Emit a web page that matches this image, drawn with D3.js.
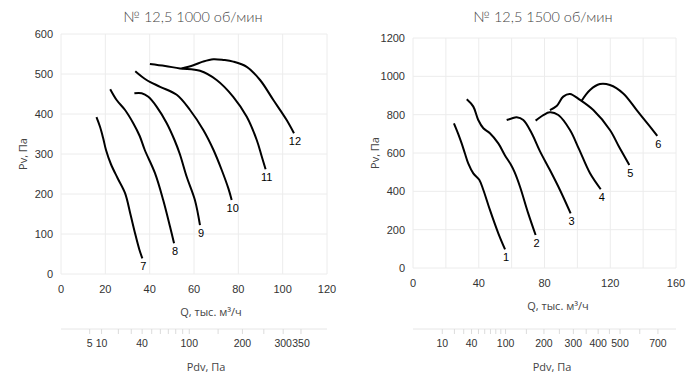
<!DOCTYPE html>
<html>
<head>
<meta charset="utf-8">
<script src="https://cdn.jsdelivr.net/npm/d3@7"></script>
<style>
  body { margin: 0; background: #fff; }
  text { font-family: "Liberation Sans", Arial, sans-serif; }
</style>
</head>
<body>
<div id="chart"></div>
<script>
// --- data ---
var leftTitle = "№ 12,5 1000 об/мин";
var rightTitle = "№ 12,5 1500 об/мин";

var leftQTicks = [0, 20, 40, 60, 80, 100, 120];
var leftPTicks = [0, 100, 200, 300, 400, 500, 600];
var leftPdvLabels = [5, 10, 40, 100, 200, 300, 350];
var leftPdvTicks = [5, 10, 20, 30, 40, 50, 60, 70, 80, 90, 100, 150, 200, 250, 300, 350];

var rightQTicks = [0, 40, 80, 120, 160];
var rightQGrid = [0, 20, 40, 60, 80, 100, 120, 140, 160];
var rightPTicks = [0, 200, 400, 600, 800, 1000, 1200];
var rightPdvLabels = [10, 40, 100, 200, 300, 400, 500, 700];
var rightPdvTicks = [10, 20, 30, 40, 50, 60, 70, 80, 90, 100, 150, 200, 250, 300, 350, 400, 450, 500, 600, 700];

// [Q, Pv] points
var curve7 = [[16, 392], [17.6, 368], [19, 340], [20.3, 310], [22.5, 275], [25.5, 240], [28.9, 202], [31.3, 150], [33.4, 102], [35.3, 62], [36.7, 39]];
var curve8 = [[22.2, 462], [25.1, 435], [28.9, 410], [32.6, 377], [35.5, 345], [37.8, 310], [42.4, 252], [46.1, 185], [49.2, 118], [51, 77]];
var curve9 = [[33.1, 452], [36.4, 452], [39.4, 443], [43.2, 418], [47.7, 377], [51.2, 335], [53.6, 300], [56.7, 243], [60.4, 185], [62.7, 122]];
var curve10 = [[33.5, 507], [38.6, 485], [44.7, 468], [52.2, 448], [58.2, 410], [64.2, 360], [68.8, 310], [72.5, 260], [75.5, 214], [77, 185]];
var curve11 = [[40.1, 525], [47, 520], [53.7, 514], [62.7, 508], [70.2, 485], [77.7, 443], [83.8, 393], [88.3, 335], [90.5, 295], [92.3, 262]];
var curve12 = [[54.4, 514], [59.7, 522], [64, 531], [68.7, 537], [73.5, 535], [77.7, 531], [83.8, 518], [89.8, 485], [95.8, 435], [101.8, 385], [105.1, 352]];

var curve1 = [[24.9, 755], [27.5, 700], [29.6, 650], [31.5, 600], [33.6, 546], [36.7, 494], [40.3, 460], [42.8, 407], [46.8, 303], [51.9, 181], [56, 97]];
var curve2 = [[32.7, 880], [36.7, 842], [39.7, 772], [42.8, 729], [46.8, 703], [51.9, 650], [55.8, 590], [59.5, 540], [61.8, 500], [65.1, 424], [70.1, 285], [74.6, 172]];
var curve3 = [[57, 772], [60, 780], [63.1, 786], [67.1, 772], [72.2, 703], [77.2, 610], [83.3, 511], [89.4, 407], [95.9, 285]];
var curve4 = [[74.6, 769], [79.3, 798], [83.3, 812], [88.4, 798], [95.5, 720], [101, 620], [107.7, 494], [114.2, 411]];
var curve5 = [[83.3, 824], [87.4, 845], [91.4, 894], [95.5, 908], [101.6, 877], [109.7, 824], [119.8, 720], [125.5, 630], [131.6, 537]];
var curve6 = [[102.6, 873], [107.7, 929], [113.7, 960], [119.8, 955], [127.9, 911], [136.1, 824], [144.2, 737], [148.6, 689]];

var leftCurves = [curve7, curve8, curve9, curve10, curve11, curve12];
var leftNames = ["7", "8", "9", "10", "11", "12"];
var rightCurves = [curve1, curve2, curve3, curve4, curve5, curve6];
var rightNames = ["1", "2", "3", "4", "5", "6"];

var width = 700, height = 382;
var svg = d3.select("#chart").append("svg")
    .attr("width", width)
    .attr("height", height);

function drawPanel(cfg) {
    var x = d3.scaleLinear().domain(cfg.qDomain).range([cfg.left, cfg.right]);
    var y = d3.scaleLinear().domain(cfg.pDomain).range([cfg.bottom, cfg.top]);
    var g = svg.append("g");

    // title
    g.append("text")
        .attr("x", cfg.titleX)
        .attr("y", 22)
        .attr("text-anchor", "middle")
        .style("font-family", "Lato, 'Noto Sans', sans-serif")
        .style("font-weight", 300)
        .style("font-size", "14.5px")
        .style("fill", "#444")
        .text(cfg.title);

    // grid
    g.selectAll(".vg").data(cfg.qGrid).enter().append("line")
        .attr("x1", d => x(d)).attr("x2", d => x(d))
        .attr("y1", cfg.top).attr("y2", cfg.bottom)
        .style("stroke", "#ececec");
    g.selectAll(".hg").data(cfg.pTicks).enter().append("line")
        .attr("x1", cfg.left).attr("x2", cfg.right)
        .attr("y1", d => y(d)).attr("y2", d => y(d))
        .style("stroke", "#ececec");

    // tick labels
    g.selectAll(".yl").data(cfg.pTicks).enter().append("text")
        .attr("x", cfg.left - 8)
        .attr("y", d => y(d) + 4)
        .attr("text-anchor", "end")
        .style("font-size", "11px")
        .style("fill", "#333")
        .text(d => d);
    g.selectAll(".xl").data(cfg.qTicks).enter().append("text")
        .attr("x", d => x(d))
        .attr("y", cfg.bottom + 19)
        .attr("text-anchor", "middle")
        .style("font-size", "11px")
        .style("fill", "#333")
        .text(d => d);

    // axis titles
    g.append("text")
        .attr("transform", `translate(${cfg.left - 34},${(cfg.top + cfg.bottom) / 2})rotate(-90)`)
        .attr("text-anchor", "middle")
        .style("font-family", "'Open Sans', sans-serif")
        .style("font-size", "11px")
        .style("fill", "#444")
        .text("Pv, Па");
    g.append("text")
        .attr("x", cfg.qLabelX)
        .attr("y", cfg.bottom + 42)
        .attr("text-anchor", "middle")
        .style("font-family", "'Open Sans', sans-serif")
        .style("font-size", "11px")
        .style("fill", "#444")
        .text("Q, тыс. м³/ч");

    // dynamic pressure axis (Pdv ~ Q^2)
    var pdv = d3.scalePow().exponent(0.5).domain([0, cfg.pdvMax]).range([cfg.left, cfg.right]);
    var ay = cfg.pdvY;
    g.append("line")
        .attr("x1", cfg.left).attr("x2", cfg.right)
        .attr("y1", ay).attr("y2", ay)
        .style("stroke", "#e6e6e6");
    g.selectAll(".pt").data(cfg.pdvTicks).enter().append("line")
        .attr("x1", d => pdv(d)).attr("x2", d => pdv(d))
        .attr("y1", ay).attr("y2", ay + 5)
        .style("stroke", "#dcdcdc");
    g.selectAll(".pl").data(cfg.pdvLabels).enter().append("text")
        .attr("x", d => pdv(d))
        .attr("y", ay + 18)
        .attr("text-anchor", "middle")
        .style("font-size", "10.5px")
        .style("fill", "#333")
        .text(d => d);
    g.append("text")
        .attr("x", cfg.pdvLabelX)
        .attr("y", ay + 42)
        .attr("text-anchor", "middle")
        .style("font-family", "'Open Sans', sans-serif")
        .style("font-size", "11px")
        .style("fill", "#444")
        .text("Pdv, Па");

    // curves
    var line = d3.line()
        .x(d => x(d[0]))
        .y(d => y(d[1]))
        .curve(d3.curveCatmullRom);
    cfg.curves.forEach(function (c, i) {
        g.append("path")
            .attr("d", line(c))
            .style("fill", "none")
            .style("stroke", "#000")
            .style("stroke-width", 2);
        var last = c[c.length - 1];
        g.append("text")
            .attr("x", x(last[0]) + 1)
            .attr("y", y(last[1]) + 12)
            .attr("text-anchor", "middle")
            .style("font-size", "11px")
            .style("fill", "#000")
            .text(cfg.names[i]);
    });
}

drawPanel({
    title: leftTitle, titleX: 193,
    left: 61, right: 327, top: 34, bottom: 274,
    qDomain: [0, 120], pDomain: [0, 600],
    qTicks: leftQTicks, qGrid: leftQTicks, pTicks: leftPTicks,
    qLabelX: 211, pdvY: 329, pdvMax: 430, pdvLabelX: 206,
    pdvTicks: leftPdvTicks, pdvLabels: leftPdvLabels,
    curves: leftCurves, names: leftNames
});

drawPanel({
    title: rightTitle, titleX: 543,
    left: 413, right: 676, top: 38, bottom: 268,
    qDomain: [0, 160], pDomain: [0, 1200],
    qTicks: rightQTicks, qGrid: rightQGrid, pTicks: rightPTicks,
    qLabelX: 558, pdvY: 329, pdvMax: 807, pdvLabelX: 552,
    pdvTicks: rightPdvTicks, pdvLabels: rightPdvLabels,
    curves: rightCurves, names: rightNames
});
</script>
</body>
</html>
